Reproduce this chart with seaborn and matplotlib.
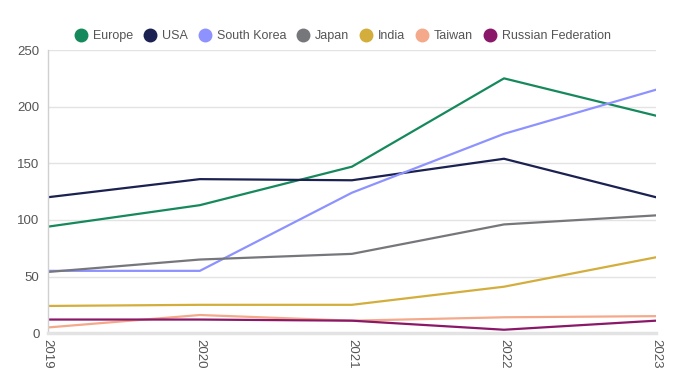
import seaborn as sns
import matplotlib.pyplot as plt
import pandas as pd
from matplotlib.lines import Line2D

years = [2019, 2020, 2021, 2022, 2023]
europe = [94, 113, 147, 225, 192]
usa = [120, 136, 135, 154, 120]
south_korea = [55, 55, 124, 176, 215]
japan = [54, 65, 70, 96, 104]
india = [24, 25, 25, 41, 67]
taiwan = [5, 16, 11, 14, 15]
russia = [12, 12, 11, 3, 11]

names = ["Europe", "USA", "South Korea", "Japan", "India", "Taiwan", "Russian Federation"]
colors = ["#16895c", "#1b2150", "#8d92ff", "#76777b", "#d3ae3d", "#f4a98a", "#8a1868"]
series = [europe, usa, south_korea, japan, india, taiwan, russia]

rows = []
for name, vals in zip(names, series):
    for yr, v in zip(years, vals):
        rows.append((yr, v, name))
df = pd.DataFrame(rows, columns=["year", "value", "country"])

sns.set_style("white")
plt.rcParams['font.family'] = ['Liberation Sans', 'DejaVu Sans']

fig = plt.figure(figsize=(6.82, 3.91), dpi=100)
ax = fig.add_axes([0.070, 0.148, 0.892, 0.724])
sns.lineplot(data=df, x="year", y="value", hue="country", hue_order=names,
             palette=colors, linewidth=1.6, ax=ax, legend=False)

ax.set_xlim(2019, 2023)
ax.set_ylim(0, 250)
ax.set_xticks(years)
ax.set_xticklabels([str(y) for y in years], rotation=-90, color="#555555", fontsize=9.5)
ax.set_yticks(range(0, 251, 50))
ax.tick_params(axis="y", colors="#555555", labelsize=9.5, length=0, pad=6)
ax.tick_params(axis="x", length=0, pad=4)
ax.set_xlabel("")
ax.set_ylabel("")
ax.grid(axis="y", color="#e3e3e3", linewidth=1)
ax.set_axisbelow(True)
for s in ["top", "right"]:
    ax.spines[s].set_visible(False)
ax.spines["left"].set_color("#d0d0d0")
ax.spines["left"].set_linewidth(1)
ax.spines["bottom"].set_color("#e3e3e3")
ax.spines["bottom"].set_linewidth(2.5)

handles = [Line2D([0], [0], marker="o", linestyle="", markersize=9,
                  markerfacecolor=c, markeredgecolor=c) for c in colors]
fig.legend(handles, names, loc="center", bbox_to_anchor=(0.503, 0.908), ncol=7,
           frameon=False, fontsize=9, labelcolor="#555555", handletextpad=0.45,
           columnspacing=0.85, handlelength=1.0)

fig.savefig("out.png", dpi=100)
